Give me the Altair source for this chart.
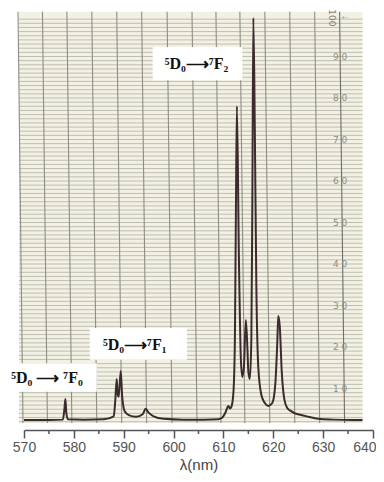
import altair as alt
import pandas as pd

# ---- spectrum (wavelength nm, intensity in chart-paper units 0..100)
wl = [570, 575, 577.8, 578.1, 578.3, 578.5, 578.8, 582, 586, 588.0, 588.3, 588.6,
      588.8, 589.0, 589.4, 589.7, 590.2, 591.0, 592.5, 593.8, 594.4, 595.0, 596.0,
      598, 602, 606, 609.0, 609.8, 610.4, 611.0, 611.3, 611.6, 612.0, 612.3, 612.5,
      612.7, 613.1, 613.5, 613.8, 614.1, 614.5, 614.8, 615.0, 615.3, 615.6, 615.8,
      616.0, 616.3, 616.6, 617.0, 617.6, 618.3, 619.0, 619.8, 620.4, 620.8, 621.0,
      621.3, 621.7, 622.2, 622.8, 623.5, 624.2, 625.0, 627.0, 629.0, 632.0, 636.0, 637.9]
intensity = [2.4, 2.4, 2.5, 5.0, 7.5, 4.0, 2.6, 2.5, 2.6, 3.3, 7.0, 12.3,
             8.5, 8.0, 14.2, 8.0, 4.5, 3.6, 3.2, 3.8, 5.1, 4.2, 3.3,
             2.7, 2.5, 2.5, 2.6, 3.0, 4.2, 5.8, 5.2, 5.6, 9.0, 22, 52,
             78, 42, 17, 12.8, 15, 26.5, 20, 14, 12.3, 22, 55,
             99.3, 72, 35, 15, 8.5, 6.5, 5.8, 6.5, 11, 21, 27.5,
             25, 14, 7.5, 5.3, 4.6, 4.1, 3.8, 3.2, 2.7, 2.5, 2.4, 2.4]

# ---- axis ticks
tick_major = [570, 580, 590, 600, 610, 620, 630, 640]
tick_minor = [575, 585, 595, 605, 615, 625, 635]

# ---- chart-paper decoration
paper_left, paper_right = 569.0, 637.9
paper_bottom, paper_top = 1.7, 100.8
vgrid_top = [568.8, 573.7, 578.6, 583.6, 588.6, 593.6, 598.7, 603.7, 608.5,
             613.3, 618.3, 623.3, 628.3, 633.3]
vgrid_bot = [569.8, 574.7, 579.6, 584.6, 589.6, 594.6, 599.7, 604.7, 609.5,
             614.3, 619.3, 624.3, 629.3, 634.3]
hgrid = list(range(2, 100))
scale_vals = [90, 80, 70, 60, 50, 40, 30, 20, 10]
scale_text = ["9 0", "8 0", "7 0", "6 0", "5 0", "4 0", "3 0", "2 0", "1 0"]

# ---- annotations
ann_text = ["⁵D₀⟶⁷F₂", "⁵D₀⟶⁷F₁", "⁵D₀ ⟶ ⁷F₀"]
ann_x = [604.6, 592.2, 574.6]
ann_y = [88.2, 20.5, 12.5]
box_x1 = [595.8, 583.2, 565.2]
box_x2 = [613.8, 602.7, 584.6]
box_y1 = [84.3, 16.9, 9.2]
box_y2 = [92.3, 24.6, 16.1]

xs = alt.Scale(domain=[570, 640], nice=False, zero=False)
ys = alt.Scale(domain=[0, 100], nice=False, zero=False)
xaxis = alt.Axis(values=tick_major, format="d", grid=False, title="λ(nm)",
                 labelFlush=False,
                 labelAlign=alt.condition("datum.value == 640", alt.value("right"),
                                          alt.value("center")),
                 labelOffset=alt.condition("datum.value == 640", alt.value(3),
                                           alt.value(0)))


def X(field):
    return alt.X(field, scale=xs, axis=xaxis)


def Y(field):
    return alt.Y(field, scale=ys, axis=None)


spec_df = pd.DataFrame({"wl": wl, "v": intensity})
paper_df = pd.DataFrame({"x": [paper_left], "x2": [paper_right],
                         "y": [paper_bottom], "y2": [paper_top]})
h_df = pd.DataFrame({"y": hgrid, "x": paper_left, "x2": paper_right})
v_df = pd.DataFrame({"x": vgrid_top, "x2": vgrid_bot,
                     "y": paper_top, "y2": paper_bottom,
                     "dark": [i == len(vgrid_top) - 1 for i in range(len(vgrid_top))]})
sc_df = pd.DataFrame({"y": scale_vals, "t": scale_text, "x": 633.4})
top_df = pd.DataFrame({"y": [99.3], "x": [631.8], "t": ["100"]})
arr_df = pd.DataFrame({"y": [99.7], "x": [634.4], "t": ["←"]})
ann_df = pd.DataFrame({"t": ann_text, "x": ann_x, "y": ann_y,
                       "bx1": box_x1, "bx2": box_x2, "by1": box_y1, "by2": box_y2})
minor_df = pd.DataFrame({"x": tick_minor})

paper = alt.Chart(paper_df).mark_rect(color="#f3f1e4").encode(
    x=X("x:Q"), x2="x2:Q", y=Y("y:Q"), y2="y2:Q")

hlines = alt.Chart(h_df).mark_rule(color="#b9b8ac", strokeWidth=0.9).encode(
    x=X("x:Q"), x2="x2:Q", y=Y("y:Q"))

vlines = alt.Chart(v_df).mark_rule(strokeWidth=1.1).encode(
    x=X("x:Q"), x2="x2:Q", y=Y("y:Q"), y2="y2:Q",
    color=alt.condition("datum.dark", alt.value("#6f6f66"), alt.value("#8e8e84")))

scale_lbl = alt.Chart(sc_df).mark_text(fontSize=9, color="#8e8e84",
                                       font="DejaVu Sans").encode(
    x=X("x:Q"), y=Y("y:Q"), text="t:N")

top_lbl = alt.Chart(top_df).mark_text(fontSize=9, color="#7e7e74", angle=90,
                                      font="DejaVu Sans").encode(
    x=X("x:Q"), y=Y("y:Q"), text="t:N")

arrow = alt.Chart(arr_df).mark_text(fontSize=10, color="#7e7e74").encode(
    x=X("x:Q"), y=Y("y:Q"), text="t:N")

line = alt.Chart(spec_df).mark_line(color="#3b2b2d", strokeWidth=2,
                                    interpolate="monotone").encode(
    x=X("wl:Q"), y=Y("v:Q"))

boxes = alt.Chart(ann_df).mark_rect(color="white").encode(
    x=X("bx1:Q"), x2="bx2:Q", y=Y("by1:Q"), y2="by2:Q")

labels = alt.Chart(ann_df).mark_text(font="Liberation Serif", fontWeight="bold",
                                     fontSize=16, color="#111111").encode(
    x=X("x:Q"), y=Y("y:Q"), text="t:N")

minor = alt.Chart(minor_df).mark_rule(color="#555555", strokeWidth=1.5).encode(
    x=X("x:Q"), y=alt.value(415), y2=alt.value(419))

chart = alt.layer(paper, hlines, vlines, scale_lbl, top_lbl, arrow, line,
                  boxes, labels, minor).properties(
    width=349, height=415,
    padding={"left": 16, "top": 7, "right": 3, "bottom": 44},
    autosize=alt.AutoSizeParams(type="none"),
).configure_view(stroke=None).configure_axis(
    domainColor="#555555", domainWidth=1.5, tickColor="#555555", tickWidth=1.5,
    tickSize=8, labelFontSize=14, labelColor="#555555", labelFont="Liberation Sans",
    labelPadding=2, titleFontSize=15, titleFont="Liberation Sans",
    titleFontWeight="normal", titleColor="#444444", titlePadding=3)

chart.save("out.html", embed_options={"renderer": "svg", "actions": False})
